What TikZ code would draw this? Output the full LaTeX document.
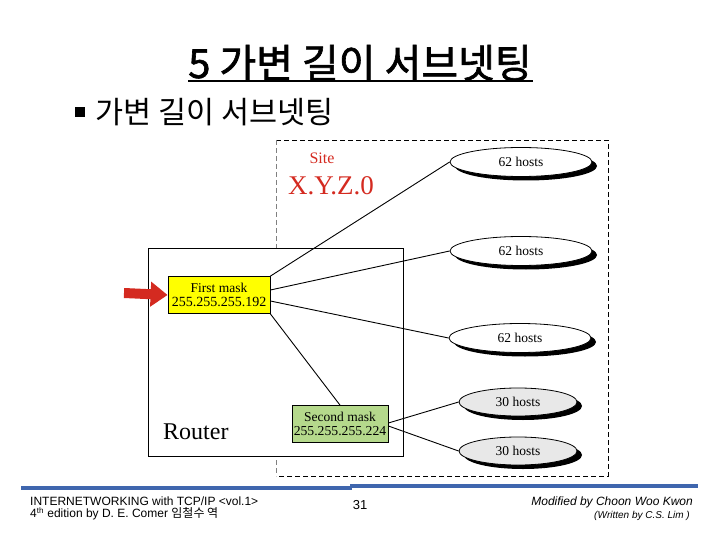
\documentclass[tikz,border=0pt]{standalone}
\usepackage{fontspec}
\setmainfont{Liberation Serif}
\newfontfamily\krfont{Noto Sans CJK KR}
\newfontfamily\krheavy{Noto Sans CJK KR}[FakeBold=1.6]
\newfontfamily\footfont{Liberation Sans}
\usetikzlibrary{positioning,arrows.meta,shapes.geometric,shadows}
\definecolor{sitered}{HTML}{D42A20}
\definecolor{maskyellow}{HTML}{FFFF00}
\definecolor{maskgreen}{HTML}{B5D98C}
\definecolor{footblue}{HTML}{3F66AE}
\definecolor{netgray}{HTML}{E8E8E8}

\begin{document}
\begin{tikzpicture}[
  x=1pt, y=-1pt,
  mask/.style={draw=black, thick, align=center, inner sep=1pt, font=\fontsize{14}{14}\selectfont},
  hostnet/.style={ellipse, draw=black, thick, fill=white, minimum width=142pt, minimum height=29pt, inner sep=0pt, font=\fontsize{13.5}{13.5}\selectfont, drop shadow={shadow xshift=5pt, shadow yshift=-4pt, fill=black, opacity=1}},
  subnet/.style={hostnet, fill=netgray, minimum width=118pt, minimum height=28pt},
  link/.style={line width=0.9pt, color=black},
  foot/.style={font=\footfont\fontsize{12}{13}\selectfont, inner sep=0pt},
]
  \useasboundingbox (0,0) rectangle (720,540);
  \node[font=\krheavy\fontsize{40}{42}\selectfont, inner sep=0pt] (title) at (360,63) {5 가변 길이 서브넷팅};
  \draw[line width=2.2pt] (188,81) -- (533,81);
  \node[fill=black, minimum size=10pt, inner sep=0pt] (bullet) at (80,112) {};
  \node[font=\krfont\fontsize{30.5}{32}\selectfont, anchor=west, inner sep=0pt] (sub) at (95,112) {가변 길이 서브넷팅};

  \draw[dash pattern=on 5pt off 3pt, thick] (276,140) -- (608,140) -- (608,476) -- (276,476);
  \draw[dash pattern=on 5pt off 3pt, gray, thick] (276,140) -- (276,476);
  \node[font=\fontsize{16}{16}\selectfont, text=sitered] (site) at (322,158) {Site};
  \node[font=\fontsize{27}{27}\selectfont, text=sitered, anchor=west, inner sep=0pt] (addr) at (288,186) {X.Y.Z.0};

  \draw[thick, fill=white] (148,248) rectangle (403,456);
  \node[font=\fontsize{24}{24}\selectfont, anchor=west, inner sep=0pt] (router) at (163,432) {Router};

  \node[mask, fill=maskyellow, minimum width=102pt, minimum height=37pt] (first) at (219,295) {{\fontsize{13.5}{14}\selectfont First mask}\\255.255.255.192};
  \node[mask, fill=maskgreen, minimum width=96pt, minimum height=37pt] (second) at (340,424) {{\fontsize{13.5}{14}\selectfont Second mask}\\{\fontsize{13.7}{14}\selectfont 255.255.255.224}};

  \node[hostnet] (net1) at (521,162) {62 hosts};
  \node[hostnet] (net2) at (521,251) {62 hosts};
  \node[hostnet] (net3) at (520,338) {62 hosts};
  \node[subnet] (net4) at (518,402) {30 hosts};
  \node[subnet] (net5) at (518,451) {30 hosts};

  \coordinate (feed) at (124,293);
  \draw[-{Triangle[length=17pt,width=24pt]}, line width=10pt, sitered] (feed) -- (first.west);

  \draw[link] (first.north east) -- (net1.west);
  \draw[link] ([yshift=5pt]first.east) -- (net2.west);
  \draw[link] ([yshift=-6pt]first.east) -- (net3.west);
  \draw[link] (first.south east) -- (second.north);
  \draw[link] ([yshift=1pt]second.east) -- (net4.west);
  \draw[link] ([yshift=-2pt]second.east) -- (net5.west);

  \draw[line width=4pt, footblue] (21,487.5) -- (352,487.5);
  \draw[line width=4pt, footblue] (350,486) -- (698,486);
  \node[foot, anchor=west] (book) at (30,501) {INTERNETWORKING with TCP/IP <vol.1>};
  \node[foot, anchor=west] (ed) at (30,514) {4\textsuperscript{th} edition by D. E. Comer {\krfont 임철수 역}};
  \node[foot, font=\footfont\fontsize{13}{14}\selectfont] (page) at (360,505) {31};
  \node[foot, anchor=east, font=\footfont\itshape\fontsize{12}{13}\selectfont] (mod) at (693,502) {Modified by Choon Woo Kwon};
  \node[foot, anchor=east, font=\footfont\itshape\fontsize{10}{11}\selectfont] (wrt) at (690,516) {(Written by C.S. Lim )};
\end{tikzpicture}
\end{document}
